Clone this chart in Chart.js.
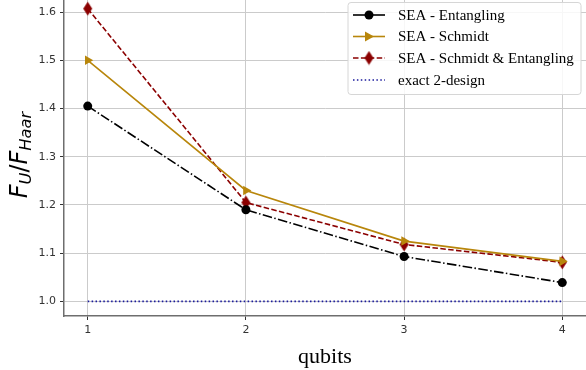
<!DOCTYPE html>
<html>
<head>
<meta charset="utf-8">
<script src="https://cdn.jsdelivr.net/npm/chart.js@4.4.0/dist/chart.umd.min.js"></script>
<style>
  html, body { margin: 0; padding: 0; background: #fff; }
  #wrap { width: 586px; height: 370px; }
</style>
</head>
<body>
<div id="wrap"><canvas id="chart" width="586" height="370"></canvas></div>
<script>
// values
const qubits = [1, 2, 3, 4];
const entangling = [1.405, 1.19, 1.093, 1.039];
const schmidt = [1.50, 1.23, 1.125, 1.083];
const schmidtEntangling = [1.607, 1.205, 1.118, 1.081];
const exactDesign = [1.0, 1.0, 1.0, 1.0];
const yTicks = [1.0, 1.1, 1.2, 1.3, 1.4, 1.5, 1.6];
const seriesNames = ["SEA - Entangling", "SEA - Schmidt", "SEA - Schmidt & Entangling", "exact 2-design"];

const colEnt = "#000000";
const colSch = "#B8860B";
const colSE = "#8B0000";
const colExact = "#1a1a9c";
const gridCol = "#cbcbcb";

// thin diamond marker like matplotlib 'd'
function thinDiamond(color) {
  const c = document.createElement("canvas");
  c.width = 11; c.height = 15;
  const g = c.getContext("2d");
  g.fillStyle = color;
  g.beginPath();
  g.moveTo(5.5, 0.5); g.lineTo(10, 7.5); g.lineTo(5.5, 14.5); g.lineTo(1, 7.5);
  g.closePath(); g.fill();
  return c;
}
const diamondImg = thinDiamond(colSE);

const pts = (arr) => qubits.map((q, i) => ({ x: q, y: arr[i] }));

// legend in the upper right corner, drawn by hand
const legendBox = {
  id: "legendBox",
  afterDraw(chart) {
    const ctx = chart.ctx;
    const x0 = 348, y0 = 2.5, w = 233, h = 92;
    ctx.save();
    ctx.fillStyle = "rgba(255,255,255,0.85)";
    ctx.strokeStyle = "#d6d6d6";
    ctx.lineWidth = 1;
    ctx.beginPath();
    ctx.roundRect(x0, y0, w, h, 3);
    ctx.fill(); ctx.stroke();

    const rows = [15, 36.5, 58, 80];
    const lx1 = 353, lx2 = 385, mx = 369;
    ctx.font = "15px 'Liberation Serif'";
    ctx.textBaseline = "middle";
    rows.forEach((ry, i) => {
      ctx.lineWidth = 1.6;
      if (i === 0) { ctx.strokeStyle = colEnt; ctx.setLineDash([]); }
      if (i === 1) { ctx.strokeStyle = colSch; ctx.setLineDash([]); }
      if (i === 2) { ctx.strokeStyle = colSE; ctx.setLineDash([5.5, 2.4]); }
      if (i === 3) { ctx.strokeStyle = colExact; ctx.setLineDash([1.5, 2.4]); }
      ctx.beginPath(); ctx.moveTo(lx1, ry); ctx.lineTo(lx2, ry); ctx.stroke();
      ctx.setLineDash([]);
      if (i === 0) {
        ctx.fillStyle = colEnt;
        ctx.beginPath(); ctx.arc(mx, ry, 4.5, 0, Math.PI * 2); ctx.fill();
      } else if (i === 1) {
        ctx.fillStyle = colSch;
        ctx.beginPath(); ctx.moveTo(mx + 5, ry); ctx.lineTo(mx - 4, ry - 5); ctx.lineTo(mx - 4, ry + 5); ctx.closePath(); ctx.fill();
      } else if (i === 2) {
        ctx.drawImage(diamondImg, mx - 5.5, ry - 7.5);
      }
      ctx.fillStyle = "#000";
      ctx.fillText(seriesNames[i], 398, ry + 1);
    });
    ctx.restore();
  }
};

// y axis title F_U/F_Haar written like mathtext
const yTitle = {
  id: "yTitle",
  afterDraw(chart) {
    const ctx = chart.ctx;
    const s = 24, sub = s * 0.68;
    const parts = [
      { t: "F", f: "italic " + s + "px 'DejaVu Sans'", dy: 0 },
      { t: "U", f: "italic " + sub + "px 'DejaVu Sans'", dy: 4 },
      { t: "/", f: s + "px 'DejaVu Sans'", dy: 0 },
      { t: "F", f: "italic " + s + "px 'DejaVu Sans'", dy: 0 },
      { t: "Haar", f: "italic " + sub + "px 'DejaVu Sans'", dy: 4 }
    ];
    ctx.save();
    let total = 0;
    parts.forEach(p => { ctx.font = p.f; p.w = ctx.measureText(p.t).width; total += p.w; });
    ctx.translate(27, 155);
    ctx.rotate(-Math.PI / 2);
    ctx.fillStyle = "#000";
    ctx.textBaseline = "alphabetic";
    let x = -total / 2;
    parts.forEach(p => { ctx.font = p.f; ctx.fillText(p.t, x, p.dy); x += p.w; });
    ctx.restore();
  }
};

new Chart(document.getElementById("chart"), {
  type: "line",
  data: {
    datasets: [
      {
        label: seriesNames[0], data: pts(entangling),
        borderColor: colEnt, backgroundColor: colEnt, borderWidth: 1.6,
        borderDash: [9.6, 2.4, 1.5, 2.4],
        pointStyle: "circle", pointRadius: 4.5, pointBorderWidth: 0
      },
      {
        label: seriesNames[1], data: pts(schmidt),
        borderColor: colSch, backgroundColor: colSch, borderWidth: 1.6,
        pointStyle: "triangle", pointRotation: 90, pointRadius: 5.5, pointBorderWidth: 0
      },
      {
        label: seriesNames[2], data: pts(schmidtEntangling),
        borderColor: colSE, backgroundColor: colSE, borderWidth: 1.6,
        borderDash: [5.5, 2.4],
        pointStyle: diamondImg, pointRadius: 6
      },
      {
        label: seriesNames[3], data: pts(exactDesign),
        borderColor: colExact, borderWidth: 1.6,
        borderDash: [1.5, 2.4], pointRadius: 0
      }
    ]
  },
  options: {
    responsive: false,
    animation: false,
    layout: { padding: 0, autoPadding: false },
    plugins: { legend: { display: false }, tooltip: { enabled: false } },
    scales: {
      x: {
        type: "linear", min: 0.85, max: 4.15,
        afterBuildTicks: (s) => { s.ticks = qubits.map(v => ({ value: v })); },
        afterFit: (s) => { s.height = 54; s.paddingLeft = 0; s.paddingRight = 0; },
        grid: { color: gridCol, lineWidth: 1, tickLength: 4, tickColor: "#333" },
        border: { color: "#6e6e6e", width: 1.5 },
        ticks: { color: "#333", font: { family: "DejaVu Sans", size: 11 }, padding: 4, maxRotation: 0 },
        title: { display: true, text: "qubits", color: "#000", font: { family: "Liberation Serif", size: 22 }, padding: { top: 2, bottom: 0 } }
      },
      y: {
        type: "linear", min: 0.9697, max: 1.625,
        afterBuildTicks: (s) => { s.ticks = yTicks.map(v => ({ value: v })); },
        afterFit: (s) => { s.width = 64; s.paddingTop = 0; s.paddingBottom = 0; },
        grid: { color: gridCol, lineWidth: 1, tickLength: 4, tickColor: "#333" },
        border: { color: "#6e6e6e", width: 1.5 },
        ticks: { color: "#333", font: { family: "DejaVu Sans", size: 11 }, padding: 4,
          callback: (v) => v.toFixed(1) }
      }
    }
  },
  plugins: [legendBox, yTitle]
});
</script>
</body>
</html>
